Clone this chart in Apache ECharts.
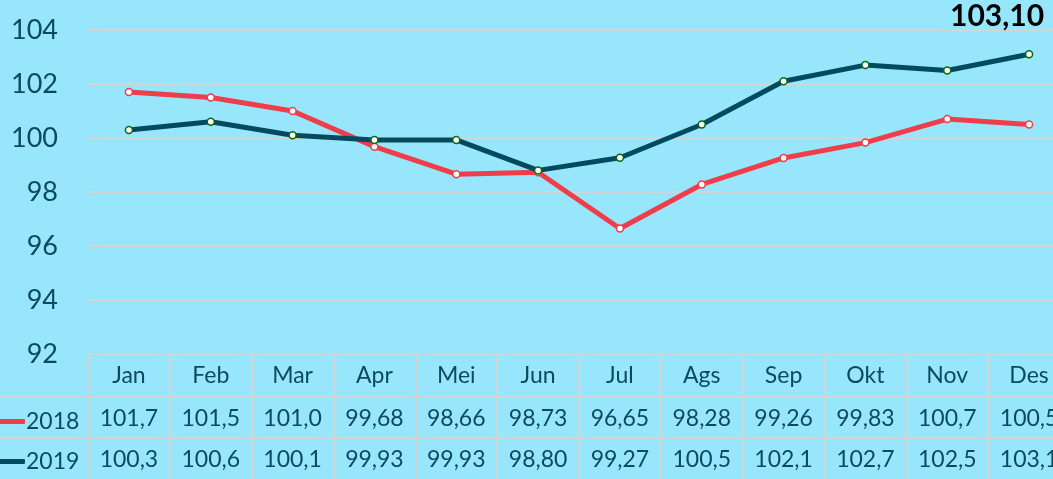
<!DOCTYPE html>
<html>
<head>
<meta charset="utf-8">
<script src="https://cdn.jsdelivr.net/npm/echarts@6/dist/echarts.min.js"></script>
<style>
  html, body { margin: 0; padding: 0; background: #97e6fb; overflow: hidden; }
  /* 图表比窗口宽, 右侧被裁掉 */
  #line_chart { width: 1070px; height: 479px; }
</style>
</head>
<body>
<div id="line_chart"></div>
<script>
// 数据
const months = ['Jan', 'Feb', 'Mar', 'Apr', 'Mei', 'Jun', 'Jul', 'Ags', 'Sep', 'Okt', 'Nov', 'Des'];
const data2018 = [101.7, 101.5, 101.0, 99.68, 98.66, 98.73, 96.65, 98.28, 99.26, 99.83, 100.7, 100.5];
const data2019 = [100.3, 100.6, 100.1, 99.93, 99.93, 98.80, 99.27, 100.5, 102.1, 102.7, 102.5, 103.1];
const table2018 = ['101,7', '101,5', '101,0', '99,68', '98,66', '98,73', '96,65', '98,28', '99,26', '99,83', '100,7', '100,5'];
const table2019 = ['100,3', '100,6', '100,1', '99,93', '99,93', '98,80', '99,27', '100,5', '102,1', '102,7', '102,5', '103,1'];
const lastLabel = '103,10';

const textColor = '#0c4a60';
const lineGray = '#d4d4d4';
const red = '#ef3d4a';
const navy = '#034a5f';
const font = 'Lato, "Open Sans", sans-serif';

const chart = echarts.init(document.getElementById('line_chart'));

// 表格行 (用额外的类目轴画文字)
function rowAxis(data, offset) {
  return {
    type: 'category',
    position: 'bottom',
    offset: offset,
    data: data,
    boundaryGap: true,
    axisLine: { show: true, lineStyle: { color: lineGray, width: 2 } },
    axisTick: { show: false },
    axisLabel: { interval: 0, margin: 10, color: textColor, fontSize: 23, fontFamily: font },
    splitLine: { show: false }
  };
}

const option = {
  backgroundColor: '#97e6fb',
  animation: false,
  color: [red, navy],
  grid: { left: 88, right: 0, top: 30, bottom: 125, outerBoundsMode: 'none' },
  legend: {
    orient: 'vertical',
    left: -6,
    top: 405,
    itemWidth: 26,
    itemHeight: 5,
    itemGap: 17,
    icon: 'roundRect',
    textStyle: { color: textColor, fontSize: 23, fontFamily: font, padding: [0, 0, 0, -4] },
    data: [
      { name: '2018', itemStyle: { color: red, borderWidth: 0 } },
      { name: '2019', itemStyle: { color: navy, borderWidth: 0 } }
    ]
  },
  xAxis: [
    {
      type: 'category',
      position: 'bottom',
      data: months,
      boundaryGap: true,
      axisLine: { show: true, lineStyle: { color: lineGray, width: 2 } },
      axisTick: { show: true, interval: 0, length: 125, lineStyle: { color: lineGray, width: 2 } },
      axisLabel: { interval: 0, margin: 10, color: textColor, fontSize: 23, fontFamily: font },
      splitLine: { show: false }
    },
    rowAxis(table2018, 43),
    rowAxis(table2019, 84)
  ],
  yAxis: {
    type: 'value',
    min: 92,
    max: 104,
    interval: 2,
    axisLine: { show: false },
    axisTick: { show: false },
    axisLabel: { margin: 30, color: textColor, fontSize: 27, fontFamily: font },
    splitLine: { show: true, lineStyle: { color: lineGray, width: 2 } }
  },
  series: [
    {
      name: '2018',
      type: 'line',
      xAxisIndex: 0,
      data: data2018,
      symbol: 'circle',
      symbolSize: 7,
      showAllSymbol: true,
      lineStyle: { color: red, width: 5 },
      itemStyle: { color: '#ffffff', borderColor: red, borderWidth: 1.5 },
      z: 2
    },
    {
      name: '2019',
      type: 'line',
      xAxisIndex: 0,
      data: data2019.map((v, i) => i === data2019.length - 1 ? {
        value: v,
        label: {
          show: true,
          position: 'top',
          offset: [-32, -14],
          formatter: lastLabel,
          color: '#000',
          fontSize: 30,
          fontWeight: 'bold',
          fontFamily: font
        }
      } : v),
      symbol: 'circle',
      symbolSize: 7,
      showAllSymbol: true,
      lineStyle: { color: navy, width: 5 },
      itemStyle: { color: '#ffffff', borderColor: '#0b6a12', borderWidth: 1.5 },
      z: 3
    }
  ],
  // 表格左侧延长线
  graphic: [
    { type: 'line', shape: { x1: 0, y1: 397, x2: 88, y2: 397 }, style: { stroke: lineGray, lineWidth: 2 } },
    { type: 'line', shape: { x1: 0, y1: 438, x2: 88, y2: 438 }, style: { stroke: lineGray, lineWidth: 2 } }
  ]
};

chart.setOption(option);
</script>
</body>
</html>
